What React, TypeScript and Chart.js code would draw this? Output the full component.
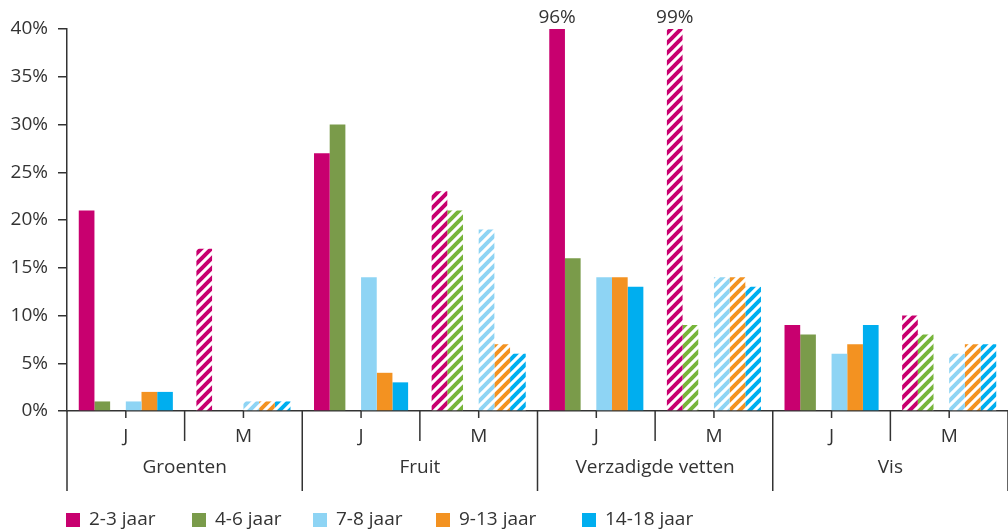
import React, { useEffect, useRef } from "react";
import { Chart, registerables } from "chart.js";

Chart.register(...registerables);

const CATEGORIES = ["J", "M", "J", "M", "J", "M", "J", "M"];
const GROUPS = ["Groenten", "Fruit", "Verzadigde vetten", "Vis"];
const SERIES = ["2-3 jaar", "4-6 jaar", "7-8 jaar", "9-13 jaar", "14-18 jaar"];
const V_2_3 = [21, 17, 27, 23, 96, 99, 9, 10];
const V_4_6 = [1, 0, 30, 21, 16, 9, 8, 8];
const V_7_8 = [1, 1, 14, 19, 14, 14, 6, 6];
const V_9_13 = [2, 1, 4, 7, 14, 14, 7, 7];
const V_14_18 = [2, 1, 3, 6, 13, 13, 9, 7];
const Y_MIN = 0;
const Y_MAX = 40;
const Y_STEP = 5;

const SOLID = ["#C8006F", "#7A9B4A", "#8ED4F4", "#F39221", "#00AEEF"];
const HATCH = ["#C8006F", "#77B53A", "#8ED4F4", "#F39221", "#00AEEF"];
const LEGEND_X = [66, 192, 313, 436, 582];
const TEXT = "#333333";
const FONT = "'Open Sans', 'Noto Sans', sans-serif";
const FONT_SIZE = 19;

function hatch(color: string) {
  const c = document.createElement("canvas");
  c.width = 10;
  c.height = 10;
  const g = c.getContext("2d")!;
  g.fillStyle = "#ffffff";
  g.fillRect(0, 0, 10, 10);
  g.strokeStyle = color;
  g.lineWidth = 4;
  g.beginPath();
  g.moveTo(-2, 12);
  g.lineTo(12, -2);
  g.moveTo(-5, 5);
  g.lineTo(5, -5);
  g.moveTo(5, 15);
  g.lineTo(15, 5);
  g.stroke();
  return g.createPattern(c, "repeat")!;
}

export default function App() {
  const ref = useRef<HTMLCanvasElement>(null);

  useEffect(() => {
    document.body.style.margin = "0";
    const values = [V_2_3, V_4_6, V_7_8, V_9_13, V_14_18];
    const mk = (i: number) => ({
      label: SERIES[i],
      data: values[i],
      backgroundColor: CATEGORIES.map((c) => (c === "M" ? hatch(HATCH[i]) : SOLID[i])),
      borderWidth: 0,
      categoryPercentage: 0.8,
      barPercentage: 1.0,
    });
    const datasets: any[] = [
      mk(0),
      mk(1),
      {
        label: "",
        data: CATEGORIES.map(() => null),
        backgroundColor: "rgba(0,0,0,0)",
        categoryPercentage: 0.8,
        barPercentage: 1.0,
      },
      mk(2),
      mk(3),
      mk(4),
    ];

    const deco = {
      id: "deco",
      afterDraw(chart: any) {
        const ctx = chart.ctx;
        const x = chart.scales.x;
        const area = chart.chartArea;
        const y0 = area.bottom;
        ctx.save();
        ctx.strokeStyle = TEXT;
        ctx.lineWidth = 1.5;
        const centers = CATEGORIES.map((_, i) => x.getPixelForValue(i));
        const half = (centers[1] - centers[0]) / 2;
        ctx.beginPath();
        centers.forEach((cx) => {
          ctx.moveTo(cx, y0);
          ctx.lineTo(cx, y0 + 7);
        });
        for (let b = 0; b <= CATEGORIES.length; b++) {
          const bx = b < CATEGORIES.length ? centers[b] - half : centers[b - 1] + half;
          ctx.moveTo(bx, y0);
          ctx.lineTo(bx, y0 + (b % 2 === 0 ? 80 : 30));
        }
        ctx.stroke();

        ctx.fillStyle = TEXT;
        ctx.font = `${FONT_SIZE}px ${FONT}`;
        ctx.textAlign = "center";
        ctx.textBaseline = "middle";
        centers.forEach((cx, i) => ctx.fillText(CATEGORIES[i], cx, y0 + 26));
        GROUPS.forEach((g, gi) => {
          const gx = (centers[gi * 2] + centers[gi * 2 + 1]) / 2;
          ctx.fillText(g, gx, y0 + 57);
        });

        // value labels for clipped bars
        const meta = chart.getDatasetMeta(0);
        ctx.textBaseline = "bottom";
        V_2_3.forEach((v, i) => {
          if (v > Y_MAX) {
            ctx.fillText(`${v}%`, meta.data[i].x, area.top - 2);
          }
        });

        // legend
        ctx.textAlign = "left";
        ctx.textBaseline = "middle";
        const ly = 520;
        SERIES.forEach((s, i) => {
          ctx.fillStyle = SOLID[i];
          ctx.fillRect(LEGEND_X[i], ly - 7, 14, 14);
          ctx.fillStyle = TEXT;
          ctx.fillText(s, LEGEND_X[i] + 23, ly);
        });
        ctx.restore();
      },
    };

    const chart = new Chart(ref.current!, {
      type: "bar",
      data: { labels: CATEGORIES, datasets },
      options: {
        animation: false,
        responsive: false,
        maintainAspectRatio: false,
        layout: { padding: { top: 29, right: 0, left: 0, bottom: 0 } },
        plugins: { legend: { display: false }, tooltip: { enabled: false } },
        scales: {
          x: {
            grid: { display: false },
            ticks: { display: false },
            border: { display: true, color: TEXT, width: 1.5 },
            afterFit: (s: any) => {
              s.height = 121;
            },
          },
          y: {
            min: Y_MIN,
            max: Y_MAX,
            ticks: {
              stepSize: Y_STEP,
              color: TEXT,
              padding: 10,
              font: { size: FONT_SIZE, family: FONT },
              callback: (v: any) => `${v}%`,
            },
            grid: { drawOnChartArea: false, drawTicks: true, tickLength: 9, color: TEXT, lineWidth: 1.5 },
            border: { display: true, color: TEXT, width: 1.5 },
            afterFit: (s: any) => {
              s.width = 67;
            },
          },
        },
      },
      plugins: [deco],
    });
    return () => chart.destroy();
  }, []);

  return <canvas ref={ref} width={1008} height={532} style={{ display: "block" }} />;
}
